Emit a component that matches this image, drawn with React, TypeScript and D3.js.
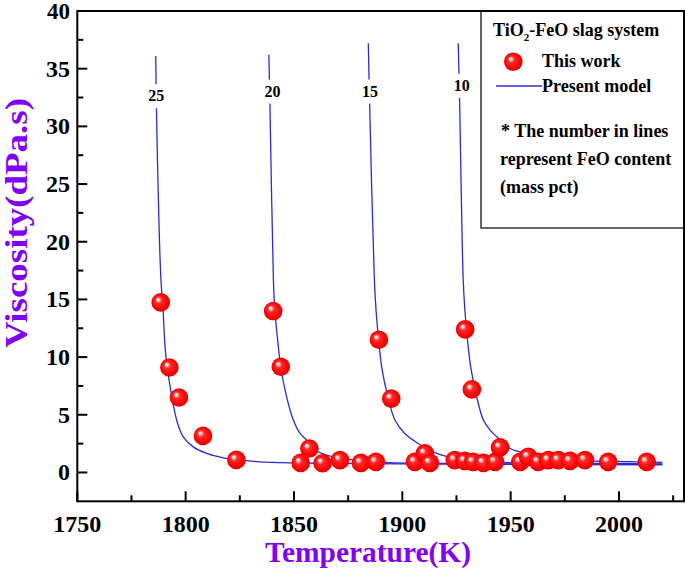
import React from "react";
import * as d3 from "d3";

// ---------- data ----------
const xTicks = [1750, 1800, 1850, 1900, 1950, 2000];
const yTicks = [0, 5, 10, 15, 20, 25, 30, 35, 40];

const feoLabels = ["25", "20", "15", "10"];
const labelT = [1786.4, 1840.1, 1885.1, 1927.4];
const labelV = [32.7, 33.1, 33.1, 33.6];

const model25: [number, number][] = [
  [1786.2, 36.1], [1786.5, 31.7], [1788.6, 16.7], [1789.4, 14.74], [1790.5, 10.9],
  [1791.5, 9.1], [1793.1, 7.14], [1794.3, 5.84], [1796.3, 4.25], [1798.9, 3.09],
  [1803.5, 2.22], [1809.7, 1.65], [1817.4, 1.27], [1825.1, 1.07], [1834.3, 0.92],
  [1860, 0.8], [1900, 0.74], [1950, 0.7], [2020, 0.66],
];
const model20: [number, number][] = [
  [1838.4, 36.2], [1838.9, 32.0], [1840.5, 16.7], [1841.2, 14.0], [1842.8, 10.9],
  [1843.9, 9.1], [1846.6, 6.56], [1849.7, 4.54], [1852.8, 3.38], [1855.9, 2.8],
  [1858.9, 2.08], [1865.1, 1.5], [1872.8, 1.2], [1882.0, 1.0], [1894.3, 0.86],
  [1940, 0.76], [1980, 0.72], [2020, 0.7],
];
const model15: [number, number][] = [
  [1884.3, 37.2], [1884.9, 32.1], [1887.1, 16.7], [1887.9, 14.0], [1889.4, 10.9],
  [1890.5, 9.1], [1893.3, 6.56], [1896.6, 4.54], [1901.0, 3.4], [1906.6, 2.6],
  [1915.9, 1.65], [1925.1, 1.21], [1935.8, 0.94], [1960, 0.82], [1990, 0.78],
  [2020, 0.75],
];
const model10: [number, number][] = [
  [1925.8, 37.2], [1926.4, 32.5], [1928.1, 16.7], [1928.9, 14.0], [1930.4, 10.9],
  [1931.6, 9.1], [1934.3, 6.56], [1937.4, 4.54], [1940.5, 3.67], [1943.6, 3.09],
  [1949.7, 2.08], [1957.4, 1.65], [1966.6, 1.35], [1978.9, 1.07], [2000, 0.95],
  [2020, 0.88],
];
const models = [model25, model20, model15, model10];

const measured: [number, number][] = [
  [1788.5, 14.74], [1792.5, 9.1], [1796.9, 6.5], [1808.0, 3.17], [1823.4, 1.09],
  [1840.4, 13.99], [1843.9, 9.16], [1857.1, 2.08], [1853.1, 0.83], [1863.2, 0.8],
  [1871.2, 1.07], [1880.9, 0.83], [1887.8, 0.92],
  [1889.2, 11.5], [1894.9, 6.4], [1905.8, 0.92], [1910.4, 1.65], [1912.7, 0.83],
  [1924.2, 1.07], [1928.8, 1.0], [1932.7, 0.92], [1937.4, 0.83], [1942.8, 0.92],
  [1929.0, 12.4], [1932.1, 7.2], [1945.1, 2.17], [1954.4, 0.92], [1958.1, 1.35],
  [1962.7, 0.92], [1967.4, 1.07], [1972.0, 1.07], [1977.4, 1.0], [1984.3, 1.07],
  [1995.0, 0.92], [2012.8, 0.92],
];

// ---------- layout ----------
const W = 685;
const H = 570;
const L = 77.3, R = 684, T = 11, B = 501.3;
const FONT = "'Liberation Serif', 'Times New Roman', serif";
const PURPLE = "#8000ff";
const BLUE = "#2b2bd6";

export default function App() {
  const x = d3.scaleLinear().domain([1750, 2030]).range([L, R]);
  const y = d3.scaleLinear().domain([-2.5, 40]).range([B, T]);
  const line = d3
    .line<[number, number]>()
    .x((d) => x(d[0]))
    .y((d) => y(d[1]))
    .curve(d3.curveCatmullRom.alpha(0.5));

  const xMinor = d3.range(1775, 2030, 50);
  const yMinor = d3.range(2.5, 40, 5);

  return (
    <svg
      width={W}
      height={H}
      style={{ position: "absolute", left: 0, top: 0, background: "#fff" }}
      fontFamily={FONT}
    >
      <defs>
        <radialGradient id="ball" cx="0.5" cy="0.5" r="0.55" fx="0.33" fy="0.33">
          <stop offset="0" stopColor="#ffffff" />
          <stop offset="0.12" stopColor="#ffd6d6" />
          <stop offset="0.32" stopColor="#ff2a2a" />
          <stop offset="0.75" stopColor="#ff0000" />
          <stop offset="1" stopColor="#d80000" />
        </radialGradient>
        <clipPath id="plotClip">
          <rect x={L} y={T} width={R - L} height={B - T} />
        </clipPath>
      </defs>
      <rect x={0} y={0} width={W} height={H} fill="#fff" />

      {/* legend box */}
      <rect x={481} y={T} width={R - 481} height={217} fill="none" stroke="#000" strokeWidth={1.2} />

      {/* model lines */}
      <g clipPath="url(#plotClip)">
        {models.map((m, i) => (
          <path key={i} d={line(m) || ""} fill="none" stroke={BLUE} strokeWidth={1.3} />
        ))}
      </g>

      {/* curve labels */}
      {feoLabels.map((lab, i) => (
        <g key={lab}>
          <rect x={x(labelT[i]) - 12} y={y(labelV[i]) - 11} width={24} height={24} fill="#fff" />
          <text
            x={x(labelT[i])}
            y={y(labelV[i]) + 6}
            textAnchor="middle"
            fontSize={16}
            fontWeight="bold"
          >
            {lab}
          </text>
        </g>
      ))}

      {/* measured points */}
      {measured.map((d, i) => (
        <circle key={i} cx={x(d[0])} cy={y(d[1])} r={9.3} fill="url(#ball)" />
      ))}

      {/* axes frame */}
      <rect x={L} y={T} width={R - L} height={B - T} fill="none" stroke="#000" strokeWidth={2} />

      {/* x ticks */}
      {xTicks.map((t) => (
        <g key={t}>
          <line x1={x(t)} x2={x(t)} y1={B} y2={B - 10} stroke="#000" strokeWidth={2} />
          <text x={x(t)} y={532} textAnchor="middle" fontSize={24} fontWeight="bold">
            {t}
          </text>
        </g>
      ))}
      {xMinor.map((t) => (
        <line key={t} x1={x(t)} x2={x(t)} y1={B} y2={B - 6} stroke="#000" strokeWidth={2} />
      ))}

      {/* y ticks */}
      {yTicks.map((t) => (
        <g key={t}>
          <line x1={L} x2={L + 10} y1={y(t)} y2={y(t)} stroke="#000" strokeWidth={2} />
          <text x={70} y={y(t) + 8} textAnchor="end" fontSize={t === 40 ? 23 : 24} fontWeight="bold">
            {t}
          </text>
        </g>
      ))}
      {yMinor.map((t) => (
        <line key={t} x1={L} x2={L + 6} y1={y(t)} y2={y(t)} stroke="#000" strokeWidth={2} />
      ))}

      {/* axis titles */}
      <text
        x={368}
        y={562}
        textAnchor="middle"
        fontSize={30}
        fontWeight="bold"
        fill={PURPLE}
        textLength={206}
        lengthAdjust="spacingAndGlyphs"
      >
        Temperature(K)
      </text>
      <text
        transform={`translate(27, 223) rotate(-90)`}
        textAnchor="middle"
        fontSize={31}
        fontWeight="bold"
        fill={PURPLE}
        textLength={250}
        lengthAdjust="spacingAndGlyphs"
      >
        Viscosity(dPa.s)
      </text>

      {/* legend */}
      <text x={493} y={36} fontSize={18} fontWeight="bold">
        TiO<tspan fontSize={11} dy={5}>2</tspan>
        <tspan dy={-5}>-FeO slag system</tspan>
      </text>
      <circle cx={513.3} cy={61.7} r={9.3} fill="url(#ball)" />
      <text x={542} y={67} fontSize={18} fontWeight="bold">
        This work
      </text>
      <line x1={496} x2={542} y1={86} y2={86} stroke={BLUE} strokeWidth={1.3} />
      <text x={542} y={92} fontSize={18} fontWeight="bold">
        Present model
      </text>
      <text x={501} y={137} fontSize={18} fontWeight="bold">
        * The number in lines
      </text>
      <text x={500} y={165} fontSize={18} fontWeight="bold">
        represent FeO content
      </text>
      <text x={500} y={193} fontSize={18} fontWeight="bold">
        (mass pct)
      </text>
    </svg>
  );
}
